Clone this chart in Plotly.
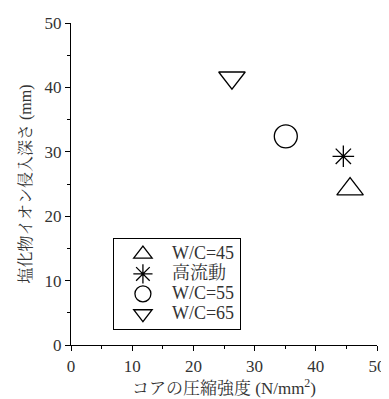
import plotly.graph_objects as go

names = ["W/C=45", "高流動", "W/C=55", "W/C=65"]
strength = [45.6, 44.5, 35.1, 26.3]
depth = [24.2, 29.3, 32.4, 41.5]
symbols = ["triangle-up-open", "asterisk-open", "circle-open", "triangle-down-open"]
sizes = [23, 18, 23, 23]

font_fam = "Liberation Serif, Noto Serif CJK JP, Noto Sans CJK JP, serif"

fig = go.Figure()
for n, x, y, s, sz in zip(names, strength, depth, symbols, sizes):
    fig.add_trace(go.Scatter(
        x=[x], y=[y], mode="markers",
        name='<span style="font-size:18px">' + n + "</span>",
        marker=dict(symbol=s, size=sz, color="black", line=dict(color="black", width=1.3)),
    ))

axis_common = dict(
    range=[0, 50], dtick=10, showline=True, linecolor="black", linewidth=1.3,
    ticks="outside", ticklen=5, tickwidth=1.3, tickcolor="black",
    minor=dict(ticks="outside", ticklen=3, dtick=5, tickwidth=1.3, tickcolor="black"),
    showgrid=False, zeroline=False, mirror=False, automargin=False,
    tickfont=dict(family=font_fam, size=17, color="#333"),
)

fig.update_layout(
    width=381, height=391,
    margin=dict(l=63, r=12, t=15, b=54),
    paper_bgcolor="white", plot_bgcolor="white",
    xaxis=dict(**axis_common, title=dict(text="コアの圧縮強度 (N/mm<sup>2</sup>)",
               font=dict(family=font_fam, size=17, color="#333"), standoff=4)),
    yaxis=dict(**axis_common, title=dict(text="塩化物イオン侵入深さ (mm)",
               font=dict(family=font_fam, size=16, color="#333"), standoff=8)),
    legend=dict(x=0.137, y=0.332, xanchor="left", yanchor="top",
                bordercolor="black", borderwidth=1, bgcolor="white",
                font=dict(family=font_fam, size=13, color="#333"),
                itemsizing="trace", itemwidth=48, tracegroupgap=0),
    showlegend=True,
)

fig.write_html("out.html")
